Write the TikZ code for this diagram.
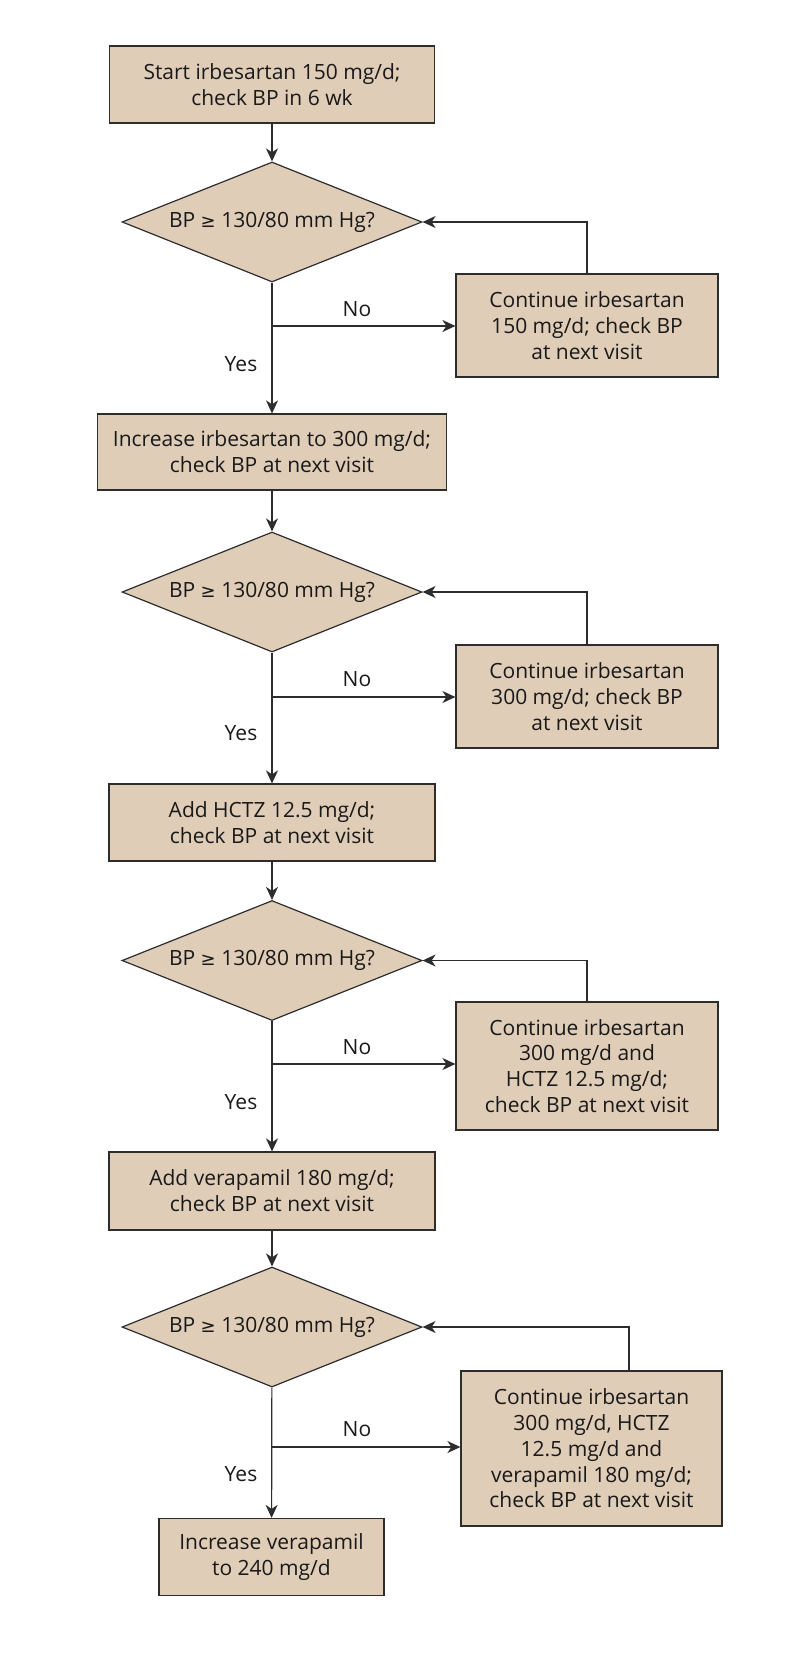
\documentclass[tikz,border=0pt]{standalone}
\usepackage{fontspec}
\setmainfont{Open Sans}
\newfontfamily\symf{DejaVu Sans}
\usetikzlibrary{shapes.geometric,arrows.meta,calc}
\definecolor{tan}{RGB}{224,205,184}
\definecolor{edge}{RGB}{45,45,45}
\newcommand{\mygeq}{{\symf\fontsize{18}{26}\selectfont ≥}}
\begin{document}
\begin{tikzpicture}[x=1pt,y=-1pt,
  every node/.style={font=\fontsize{21}{25.8}\selectfont, text=black!90},
  boxn/.style={draw=edge, line width=1.2pt, fill=tan, align=center, inner sep=0pt},
  dia/.style={draw=edge, line width=1.2pt, fill=tan, diamond, aspect=2.5, inner sep=0pt, minimum width=300pt, minimum height=120pt},
  arr/.style={draw=edge, line width=1.2pt, -{Stealth[length=13pt,width=12pt,inset=4pt]}},
  lbl/.style={inner sep=0pt}]
\useasboundingbox (0,0) rectangle (800,1667);
\fill[white] (0,0) rectangle (800,1667);

% main column
\node[boxn, minimum width=325pt, minimum height=77pt] (b1) at (272,84.5) {Start irbesartan 150 mg/d;\\check BP in 6 wk};
\node[dia] (d1) at (272,222) {BP \mygeq{} 130/80 mm Hg?};
\node[boxn, minimum width=262pt, minimum height=103pt] (s1) at (587,325.5) {Continue irbesartan\\150 mg/d; check BP\\at next visit};
\node[boxn, minimum width=349pt, minimum height=76pt] (b2) at (272,452) {Increase irbesartan to 300 mg/d;\\check BP at next visit};
\node[dia] (d2) at (272,592) {BP \mygeq{} 130/80 mm Hg?};
\node[boxn, minimum width=262pt, minimum height=103pt] (s2) at (587,696.5) {Continue irbesartan\\300 mg/d; check BP\\at next visit};
\node[boxn, minimum width=326pt, minimum height=77pt] (b3) at (272,822.5) {Add HCTZ 12.5 mg/d;\\check BP at next visit};
\node[dia] (d3) at (272,960.5) {BP \mygeq{} 130/80 mm Hg?};
\node[boxn, minimum width=262pt, minimum height=128pt] (s3) at (587,1066) {Continue irbesartan\\300 mg/d and\\HCTZ 12.5 mg/d;\\check BP at next visit};
\node[boxn, minimum width=326pt, minimum height=78pt] (b4) at (272,1191) {Add verapamil 180 mg/d;\\check BP at next visit};
\node[dia] (d4) at (272,1327) {BP \mygeq{} 130/80 mm Hg?};
\node[boxn, minimum width=261pt, minimum height=155pt] (s4) at (591.5,1448.5) {Continue irbesartan\\300 mg/d, HCTZ\\12.5 mg/d and\\verapamil 180 mg/d;\\check BP at next visit};
\node[boxn, minimum width=225pt, minimum height=77pt] (b5) at (271.5,1557) {Increase verapamil\\to 240 mg/d};

% branch points
\coordinate (n1) at (272,326);
\coordinate (n2) at (272,697);
\coordinate (n3) at (272,1064);
\coordinate (n4) at (272,1447);
\coordinate (f4) at (629,1371);

% vertical flow
\draw[arr] (b1) -- (d1);
\draw[arr] (d1) -- (b2);
\draw[arr] (b2) -- (d2);
\draw[arr] (d2) -- (b3);
\draw[arr] (b3) -- (d3);
\draw[arr] (d3) -- (b4);
\draw[arr] (b4) -- (d4);
\draw[arr] (d4) -- (b5);

% No branches
\draw[arr] (n1) -- (n1 -| s1.west);
\draw[arr] (n2) -- (n2 -| s2.west);
\draw[arr] (n3) -- (n3 -| s3.west);
\draw[arr] (n4) -- (n4 -| s4.west);

% feedback loops
\draw[arr] (s1.north) |- (d1.east);
\draw[arr] (s2.north) |- (d2.east);
\draw[arr] (s3.north) |- (d3.east);
\draw[arr] (f4) |- (d4.east);

% labels
\node[lbl] (no1) at (357,309) {No};
\node[lbl] (no2) at (357,679) {No};
\node[lbl] (no3) at (357,1047) {No};
\node[lbl] (no4) at (357,1429) {No};
\node[lbl] (y1) at (241,364) {Yes};
\node[lbl] (y2) at (241,733) {Yes};
\node[lbl] (y3) at (241,1102) {Yes};
\node[lbl] (y4) at (241,1474) {Yes};
\end{tikzpicture}
\end{document}
